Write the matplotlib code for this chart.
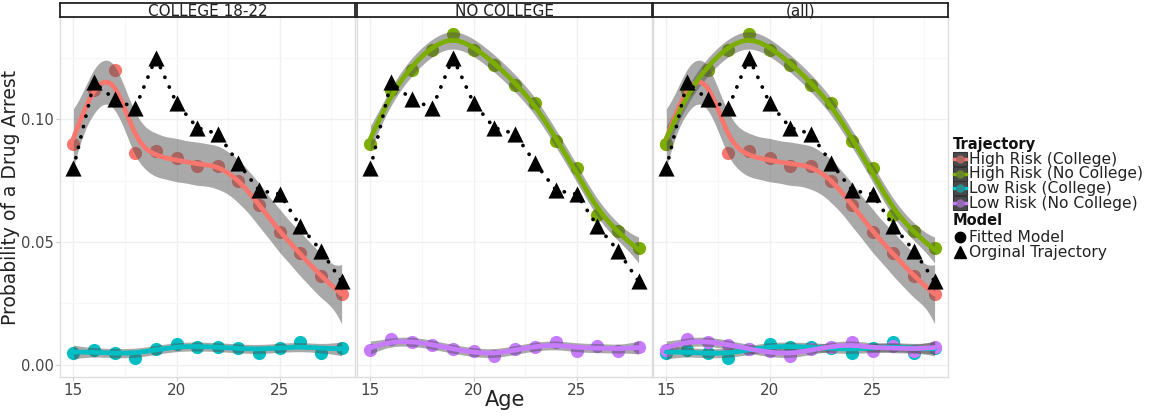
import numpy as np
import matplotlib
matplotlib.use("Agg")
import matplotlib.pyplot as plt
from matplotlib.lines import Line2D
from matplotlib.patches import Rectangle
from matplotlib.colors import to_rgb

plt.rcParams['font.family'] = ['DejaVu Sans']

age = [15, 16, 17, 18, 19, 20, 21, 22, 23, 24, 25, 26, 27, 28]

# observed trajectory (triangles)
orig = [0.080, 0.115, 0.108, 0.1045, 0.125, 0.1065, 0.0965, 0.094, 0.082, 0.071, 0.0695, 0.0565, 0.0465, 0.034]

# fitted model probabilities by trajectory group
high_college = [0.090, 0.112, 0.120, 0.086, 0.087, 0.084, 0.081, 0.081, 0.075, 0.065, 0.054, 0.0455, 0.036, 0.029]
high_nocollege = [0.090, 0.112, 0.120, 0.128, 0.1345, 0.128, 0.122, 0.114, 0.1065, 0.091, 0.080, 0.061, 0.0545, 0.0475]
low_college = [0.005, 0.006, 0.005, 0.003, 0.0065, 0.0085, 0.0073, 0.0073, 0.007, 0.005, 0.007, 0.0095, 0.005, 0.007]
low_nocollege = [0.006, 0.0105, 0.0095, 0.008, 0.0065, 0.0055, 0.0035, 0.0065, 0.0075, 0.0095, 0.0055, 0.0078, 0.0058, 0.0075]

groups = ["High Risk (College)", "High Risk (No College)", "Low Risk (College)", "Low Risk (No College)"]
group_vals = [high_college, high_nocollege, low_college, low_nocollege]
colors = ["#F8766D", "#7CAE00", "#00BFC4", "#C77CFF"]

facets = ["COLLEGE 18-22", "NO COLLEGE", "(all)"]
facet_groups = [[0, 2], [1, 3], [0, 1, 2, 3]]

model_labels = ["Fitted Model", "Orginal Trajectory"]


def smooth(x, y, xs, min_edf=6, max_edf=9):
    # cubic smoothing spline, penalty picked by GCV, with a 95% band
    x = np.asarray(x, float)
    y = np.asarray(y, float)
    n = len(x)
    h = np.diff(x)
    Q = np.zeros((n, n - 2))
    R = np.zeros((n - 2, n - 2))
    for j in range(1, n - 1):
        Q[j - 1, j - 1] = 1 / h[j - 1]
        Q[j, j - 1] = -1 / h[j - 1] - 1 / h[j]
        Q[j + 1, j - 1] = 1 / h[j]
        R[j - 1, j - 1] = (h[j - 1] + h[j]) / 3
        if j < n - 2:
            R[j - 1, j] = R[j, j - 1] = h[j] / 6
    G = np.linalg.solve(R, Q.T)
    K = Q @ G
    Gf = np.vstack([np.zeros(n), G, np.zeros(n)])

    M = np.zeros((len(xs), n))
    for r, v in enumerate(xs):
        i = min(np.searchsorted(x, v, 'right') - 1, n - 2)
        a = v - x[i]
        b = x[i + 1] - v
        row = np.zeros(n)
        row[i] += b / h[i]
        row[i + 1] += a / h[i]
        row -= (a * b / 6) * ((1 + a / h[i]) * Gf[i + 1] + (1 + b / h[i]) * Gf[i])
        M[r] = row

    best = None
    for lam in np.logspace(-3, 3, 300):
        S = np.linalg.inv(np.eye(n) + lam * K)
        tr = np.trace(S)
        if tr > max_edf or tr < min_edf:
            continue
        rss = np.sum((y - S @ y) ** 2)
        gcv = n * rss / (n - tr) ** 2
        if best is None or gcv < best[0]:
            best = (gcv, S, tr, rss)
    _, S, tr, rss = best
    A = M @ S
    fit = A @ y
    df = n - tr
    se = np.sqrt(rss / df * np.sum(A ** 2, axis=1))
    z = 1.959964
    t = z + (z ** 3 + z) / (4 * df) + (5 * z ** 5 + 16 * z ** 3 + 3 * z) / (96 * df ** 2)
    return fit, fit - t * se, fit + t * se


W, H = 1154, 417
fig = plt.figure(figsize=(W / 100, H / 100), dpi=100)


def fx(px):
    return px / W


def fy(py):
    return 1 - py / H


lefts = [60, 357, 653]
pw = 295
ptop, pbot = 17, 377

xs = np.linspace(15, 28, 200)
ribbon = '#555555'

for k, name in enumerate(facets):
    l = lefts[k]
    ax = fig.add_axes([fx(l), fy(pbot), pw / W, (pbot - ptop) / H])
    ax.set_xlim(14.35, 28.65)
    ax.set_ylim(-0.0049, 0.1415)
    ax.set_xticks([15, 20, 25])
    ax.set_xticks([17.5, 22.5, 27.5], minor=True)
    ax.set_yticks([0.0, 0.05, 0.10])
    ax.set_yticks([0.025, 0.075, 0.125], minor=True)
    ax.grid(True, which='major', color='#f0f0f0', lw=1.0)
    ax.grid(True, which='minor', color='#f7f7f7', lw=0.8)
    ax.set_axisbelow(True)
    for sp in ax.spines.values():
        sp.set_color('#dddddd')
        sp.set_linewidth(1.0)
    ax.tick_params(which='minor', length=0)
    ax.tick_params(which='major', length=3, color='#cccccc', labelsize=10.5, labelcolor='#444444', pad=1.5)
    ax.tick_params(axis='x', labelsize=11)
    if k == 0:
        ax.set_yticklabels(["0.00", "0.05", "0.10"])
    else:
        ax.set_yticklabels([])
        ax.tick_params(axis='y', length=0)

    for g in facet_groups[k]:
        ax.scatter(age, group_vals[g], s=90, color=colors[g], lw=0, zorder=2)
    for g in facet_groups[k]:
        fit, lo, hi = smooth(age, group_vals[g], xs)
        ax.fill_between(xs, lo, hi, color=ribbon, alpha=0.5, lw=0, zorder=3)
        ax.plot(xs, fit, color=colors[g], lw=3.4, zorder=4, solid_capstyle='round')

    ax.plot(age, orig, color='black', lw=2.7, ls=(0, (0.05, 2.8)), dash_capstyle='round', zorder=5)
    ax.scatter(age, orig, marker='^', s=135, color='black', lw=0, zorder=6)

    sax = fig.add_axes([fx(l), fy(17), pw / W, 14 / H])
    sax.set_xticks([])
    sax.set_yticks([])
    for sp in sax.spines.values():
        sp.set_color('#222222')
        sp.set_linewidth(1.3)
    sax.text(0.5, 0.42, name, ha='center', va='center', fontsize=11, color='#222222', transform=sax.transAxes)

fig.text(fx(11), fy(197), "Probability of a Drug Arrest", rotation=90, ha='center', va='center', fontsize=13.5, color='#222222')
fig.text(fx(505), fy(400), "Age", ha='center', va='center', fontsize=15, color='#222222')

# legend: trajectory groups
fig.text(fx(953), fy(145), "Trajectory", ha='left', va='center', fontsize=10.5, fontweight='bold', color='#111111')
for g in range(4):
    yc = 159 + 14.7 * g
    fig.add_artist(Rectangle((fx(953), fy(yc + 7)), 14 / W, 14 / H, transform=fig.transFigure,
                             facecolor='#4a4a4a', edgecolor='#333333', lw=0.8))
    dark = tuple(0.55 * c + 0.45 * r for c, r in zip(to_rgb(colors[g]), to_rgb(ribbon)))
    fig.add_artist(Line2D([fx(954), fx(966)], [fy(yc), fy(yc)], transform=fig.transFigure,
                          color=colors[g], lw=2.4))
    fig.add_artist(Line2D([fx(960)], [fy(yc)], transform=fig.transFigure, ls='none',
                          marker='o', markersize=6, markerfacecolor=dark, markeredgewidth=0))
    fig.text(fx(969), fy(yc), groups[g], ha='left', va='center', fontsize=11.2, color='#222222')

# legend: model type
fig.text(fx(953), fy(220), "Model", ha='left', va='center', fontsize=10.5, fontweight='bold', color='#111111')
for i, (mk, ms) in enumerate([('o', 7.5), ('^', 8.5)]):
    yc = 237 + 15 * i
    fig.add_artist(Line2D([fx(960)], [fy(yc)], transform=fig.transFigure, ls='none',
                          marker=mk, markersize=ms, color='black'))
    fig.text(fx(969), fy(yc), model_labels[i], ha='left', va='center', fontsize=11.2, color='#222222')

fig.savefig("out.png", dpi=100)
